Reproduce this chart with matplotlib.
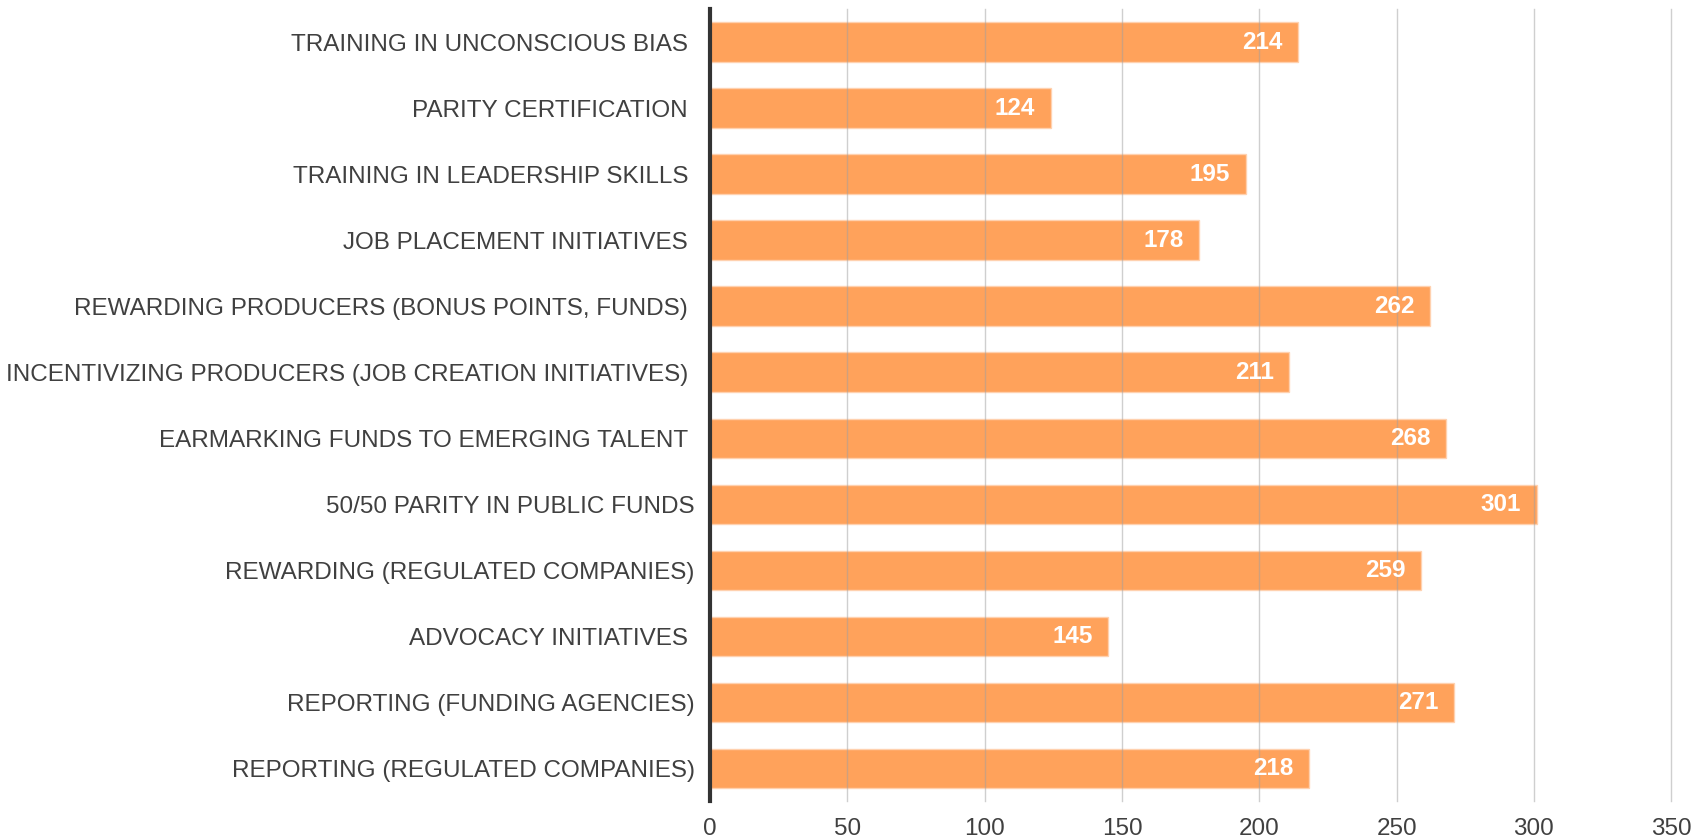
import matplotlib.pyplot as plt
import numpy as np

measures = [
    'TRAINING IN UNCONSCIOUS BIAS ',
    'PARITY CERTIFICATION ',
    'TRAINING IN LEADERSHIP SKILLS ',
    'JOB PLACEMENT INITIATIVES ',
    'REWARDING PRODUCERS (BONUS POINTS, FUNDS) ',
    'INCENTIVIZING PRODUCERS (JOB CREATION INITIATIVES) ',
    'EARMARKING FUNDS TO EMERGING TALENT ',
    '50/50 PARITY IN PUBLIC FUNDS',
    'REWARDING (REGULATED COMPANIES)',
    'ADVOCACY INITIATIVES ',
    'REPORTING (FUNDING AGENCIES)',
    'REPORTING (REGULATED COMPANIES)',
]
counts = [214, 124, 195, 178, 262, 211, 268, 301, 259, 145, 271, 218]
x_ticks = [0, 50, 100, 150, 200, 250, 300, 350]

plt.rcParams['font.family'] = ['Liberation Sans', 'DejaVu Sans']

fig = plt.figure(figsize=(17.07, 8.4), dpi=100)
ax = fig.add_axes([0.416, 0.046, 0.563, 0.943])

y = np.arange(len(measures))
bars = ax.barh(y, counts, height=0.6, color='#ff9d52', alpha=0.95,
               edgecolor='#ffd2b0', linewidth=1, zorder=2)

for rect, v in zip(bars, counts):
    ax.annotate(str(v), xy=(rect.get_width(), rect.get_y() + rect.get_height() / 2),
                xytext=(-11, 0), textcoords='offset points',
                ha='right', va='center', color='white', fontsize=17.5,
                fontweight='bold', zorder=4)

ax.set_yticks(y)
ax.set_yticklabels(measures)
ax.set_ylim(len(measures) - 0.5, -0.5)
ax.set_xlim(0, 350)
ax.set_xticks(x_ticks)

ax.tick_params(axis='both', length=0, labelsize=17.5, colors='#404040')
ax.tick_params(axis='y', pad=11)
ax.tick_params(axis='x', pad=12)

ax.grid(axis='x', color='#a0a0a0', linewidth=1, alpha=0.5, zorder=3)
for gl in ax.get_xgridlines():
    gl.set_clip_on(False)
ax.set_axisbelow(False)
for s in ['top', 'right', 'bottom']:
    ax.spines[s].set_visible(False)
ax.spines['left'].set_color('#333333')
ax.spines['left'].set_linewidth(3)
ax.spines['left'].set_zorder(5)

fig.savefig('out.png', dpi=100, facecolor='white')
